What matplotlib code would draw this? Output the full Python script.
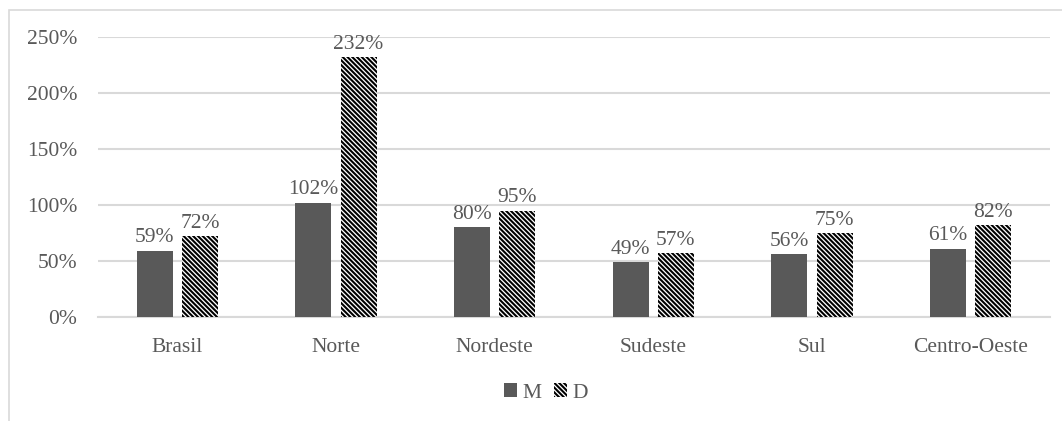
import matplotlib
matplotlib.use("Agg")
import matplotlib.pyplot as plt
from matplotlib.patches import Rectangle
import numpy as np

regions = ["Brasil", "Norte", "Nordeste", "Sudeste", "Sul", "Centro-Oeste"]
m_values = [59, 102, 80, 49, 56, 61]
d_values = [72, 232, 95, 57, 75, 82]
y_ticks = [0, 50, 100, 150, 200, 250]

text_gray = "#595959"
grid_gray = "#d9d9d9"

plt.rcParams["font.family"] = ["Liberation Serif", "DejaVu Serif"]
plt.rcParams["font.size"] = 15.5
plt.rcParams["hatch.linewidth"] = 1.5
plt.rcParams["hatch.color"] = "black"

fig = plt.figure(figsize=(10.62, 4.21), dpi=100)
ax = fig.add_axes([0.0923, 0.247, 0.8964, 0.665])

# chart frame (open on the right and bottom)
fig.patches.append(Rectangle((9 / 1062, -0.1), 1.2, 1.1 - 10 / 421,
                             transform=fig.transFigure, fill=False,
                             edgecolor=grid_gray, linewidth=1.2))

x = np.arange(len(regions))
width = 0.227
offset = 0.142

bars_m = ax.bar(x - offset, m_values, width, color=text_gray, label="M", zorder=3)
bars_d = ax.bar(x + offset, d_values, width, facecolor="white", edgecolor="black",
                linewidth=0, hatch="\\" * 7, label="D", zorder=3)

for bars, vals in ((bars_m, m_values), (bars_d, d_values)):
    for b, v in zip(bars, vals):
        ax.annotate(f"{v}%", (b.get_x() + b.get_width() / 2, v),
                    xytext=(0, 2.5), textcoords="offset points",
                    ha="center", va="bottom", color=text_gray)

ax.set_ylim(0, 250)
ax.set_xlim(-0.5, len(regions) - 0.5)
ax.set_yticks(y_ticks)
ax.set_yticklabels([f"{t}%" for t in y_ticks])
ax.set_xticks(x)
ax.set_xticklabels(regions)
ax.tick_params(axis="y", length=0, pad=15, colors=text_gray)
ax.tick_params(axis="x", length=0, pad=15, colors=text_gray)
ax.yaxis.grid(True, color=grid_gray, linewidth=1.5, zorder=0)
for s in ("top", "right", "left"):
    ax.spines[s].set_visible(False)
ax.spines["bottom"].set_color(grid_gray)
ax.spines["bottom"].set_linewidth(1.5)
ax.set_axisbelow(True)

leg = fig.legend(handles=[bars_m, bars_d], labels=["M", "D"], loc="center",
                 bbox_to_anchor=(546 / 1062, 1 - 393 / 421), ncol=2, frameon=False,
                 handlelength=0.6, handleheight=0.6, handletextpad=0.25,
                 columnspacing=0.6, labelcolor=text_gray)

fig.savefig("out.png", dpi=100)
